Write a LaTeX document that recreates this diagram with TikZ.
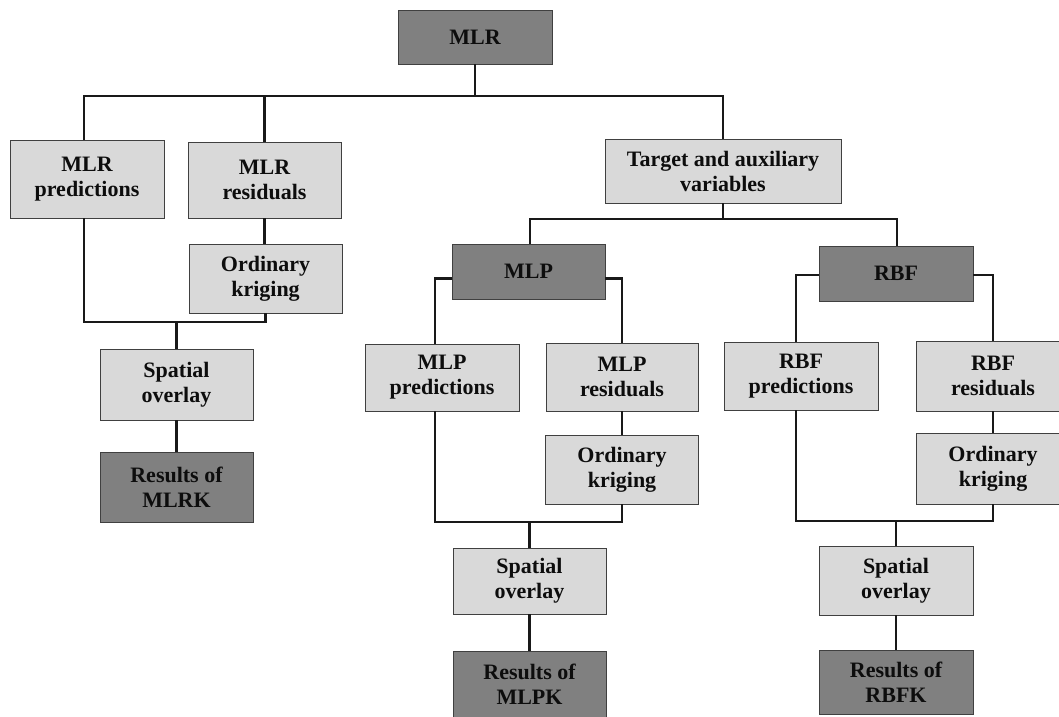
\documentclass[tikz,border=0pt]{standalone}
\usepackage{fontspec}
\setmainfont{Liberation Serif}
\begin{document}
\begin{tikzpicture}[x=1pt,y=-1pt,
  box/.style={draw=black!75, line width=0.8pt, align=center, inner sep=0pt,
    font=\fontsize{22}{25}\selectfont\bfseries, text=black!95},
  lbox/.style={box, fill=black!15},
  dbox/.style={box, fill=black!50},
  conn/.style={line width=2.2pt, black!90, line join=miter}]
\useasboundingbox (0,0) rectangle (1059,716);
\fill[white] (0,0) rectangle (1059,716);
% boxes
\node[dbox, minimum width=154, minimum height=54] (mlr) at (475,37) {MLR};
\node[lbox, minimum width=154, minimum height=78] (mlrp) at (87,179) {MLR\\predictions};
\node[lbox, minimum width=153, minimum height=76] (mlrr) at (264.5,180) {MLR\\residuals};
\node[lbox, minimum width=153, minimum height=69] (okl) at (265.5,278.5) {Ordinary\\kriging};
\node[lbox, minimum width=153, minimum height=71] (sol) at (176.5,384.5) {Spatial\\overlay};
\node[dbox, minimum width=153, minimum height=70] (resl) at (176.5,487) {Results of\\MLRK};
\node[lbox, minimum width=236, minimum height=64] (tgt) at (723,171) {Target and auxiliary\\variables};
\node[dbox, minimum width=153, minimum height=55] (mlp) at (528.5,271.5) {MLP};
\node[dbox, minimum width=154, minimum height=55] (rbf) at (896,273.5) {RBF};
\node[lbox, minimum width=154, minimum height=67] (mlpp) at (442,377.5) {MLP\\predictions};
\node[lbox, minimum width=152, minimum height=68] (mlpr) at (622,377) {MLP\\residuals};
\node[lbox, minimum width=153, minimum height=69] (okm) at (622,469.5) {Ordinary\\kriging};
\node[lbox, minimum width=153, minimum height=66] (som) at (529.5,581) {Spatial\\overlay};
\node[dbox, minimum width=153, minimum height=66] (resm) at (529.5,684) {Results of\\MLPK};
\node[lbox, minimum width=154, minimum height=68] (rbfp) at (801,376) {RBF\\predictions};
\node[lbox, minimum width=154, minimum height=70] (rbfr) at (993,376) {RBF\\residuals};
\node[lbox, minimum width=154, minimum height=71] (okr) at (993,468.5) {Ordinary\\kriging};
\node[lbox, minimum width=154, minimum height=69] (sor) at (896,580.5) {Spatial\\overlay};
\node[dbox, minimum width=154, minimum height=64] (resr) at (896,682) {Results of\\RBFK};
% junction points
\coordinate (b1) at (475,96);
\coordinate (b2) at (723,219);
\coordinate (j1) at (176.5,322);
\coordinate (j2) at (529.5,522);
\coordinate (j3) at (896,521);
% connectors
\draw[conn] (mlr.south) -- (b1);
\draw[conn] ([xshift=-3pt]mlrp.north) |- (b1) -| (tgt.north);
\draw[conn] (mlrr.north) -- (mlrr.north |- b1);
\draw[conn] (mlrr.south) -- (okl.north -| mlrr.south);
\draw[conn] ([xshift=-3pt]mlrp.south) |- (j1) -| (okl.south);
\draw[conn] (j1) -- (sol.north);
\draw[conn] (sol.south) -- (resl.north);
\draw[conn] (tgt.south) -- (b2);
\draw[conn] ([xshift=1.5pt]mlp.north) |- (b2) -| ([xshift=1pt]rbf.north);
\draw[conn] ([yshift=-7pt]mlp.west) -| ([xshift=-7pt]mlpp.north);
\draw[conn] ([yshift=-7pt]mlp.east) -| (mlpr.north);
\draw[conn] (mlpr.south) -- (okm.north);
\draw[conn] ([xshift=-7pt]mlpp.south) |- (j2) -| (okm.south);
\draw[conn] (j2) -- (som.north);
\draw[conn] (som.south) -- (resm.north);
\draw[conn] ([yshift=-1.5pt]rbf.west) -| ([xshift=-5pt]rbfp.north);
\draw[conn] ([yshift=-1.5pt]rbf.east) -| (rbfr.north);
\draw[conn] (rbfr.south) -- (okr.north);
\draw[conn] ([xshift=-5pt]rbfp.south) |- (j3) -| (okr.south);
\draw[conn] (j3) -- (sor.north);
\draw[conn] (sor.south) -- (resr.north);
\end{tikzpicture}
\end{document}
